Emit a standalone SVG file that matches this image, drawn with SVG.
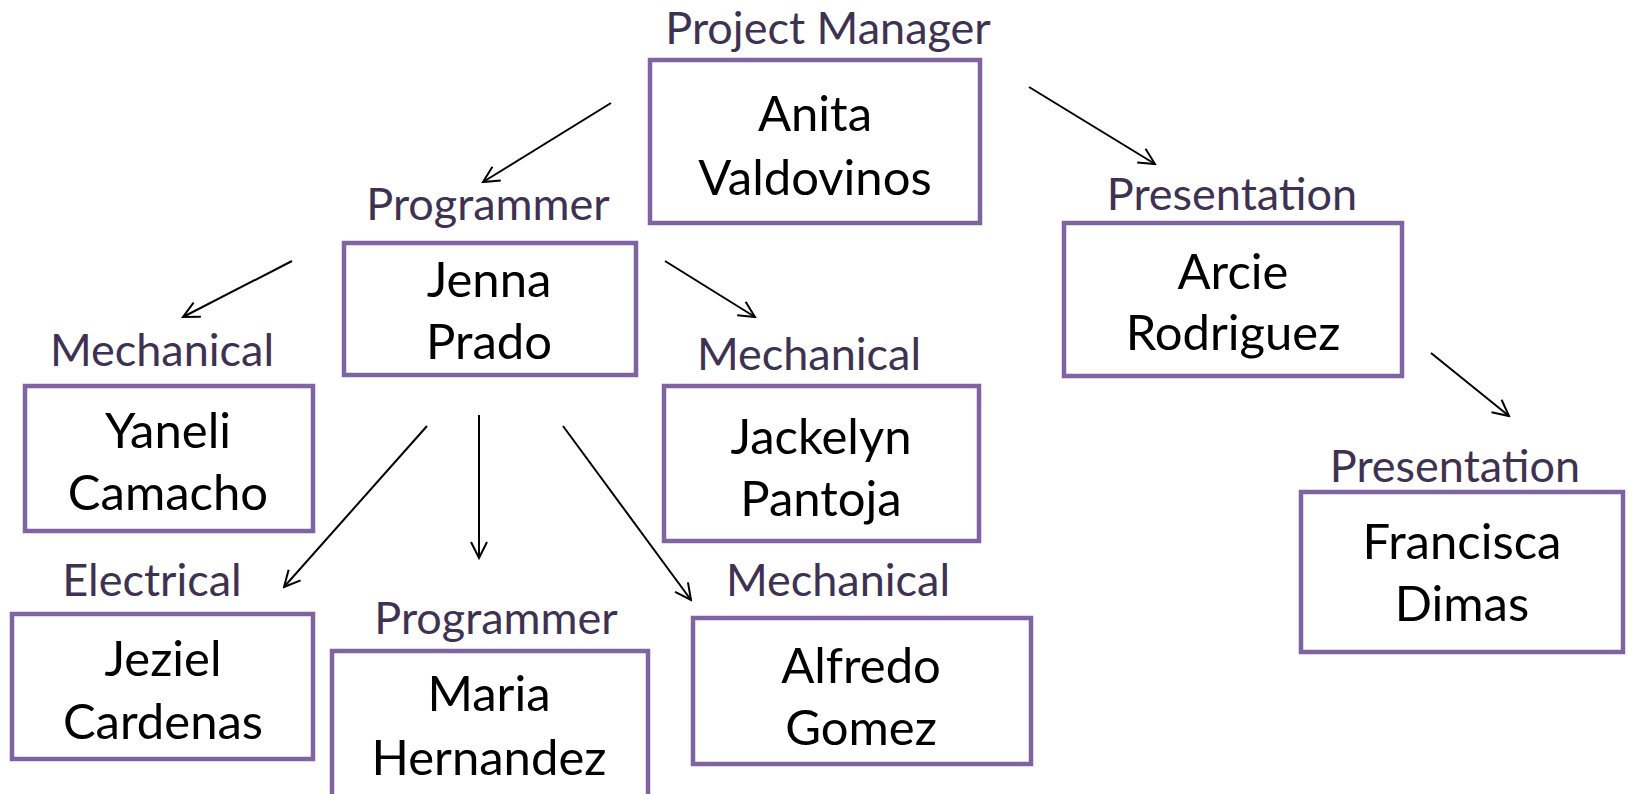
<svg xmlns="http://www.w3.org/2000/svg" width="1629" height="794" viewBox="0 0 1629 794">
<style>
.box{fill:#fff;stroke:#8064a2;stroke-width:4.5}
.role{font-family:Lato,"Liberation Sans",sans-serif;font-size:45px;fill:#3f3151;text-anchor:middle}
.name{font-family:Lato,"Liberation Sans",sans-serif;font-size:49px;fill:#000;text-anchor:middle}
.conn line{stroke:#000;stroke-width:2;marker-end:url(#arr)}
</style>
<defs>
<marker id="arr" viewBox="0 0 20 20" refX="18" refY="10" markerWidth="20" markerHeight="20" markerUnits="userSpaceOnUse" orient="auto">
<path d="M2,2 L18,10 L2,18" fill="none" stroke="#000" stroke-width="2"/>
</marker>
</defs>
<rect width="1629" height="794" fill="#fff"/>
<g id="connectors" class="conn">
<line x1="611" y1="103" x2="483" y2="182"/>
<line x1="1029" y1="87" x2="1155" y2="164"/>
<line x1="292" y1="261" x2="183" y2="317"/>
<line x1="665" y1="261" x2="755" y2="317"/>
<line x1="427" y1="426" x2="284" y2="587"/>
<line x1="479" y1="415" x2="479" y2="558"/>
<line x1="563" y1="426" x2="691" y2="600"/>
<line x1="1431" y1="353" x2="1509" y2="416"/>
</g>
<g id="anita">
<text class="role" x="828" y="44">Project Manager</text>
<rect class="box" x="650" y="60" width="330" height="163"/>
<text class="name" x="815" y="131">Anita</text>
<text class="name" x="815" y="195">Valdovinos</text>
</g>
<g id="jenna">
<text class="role" x="488" y="220">Programmer</text>
<rect class="box" x="344" y="243" width="292" height="132"/>
<text class="name" x="489" y="297">Jenna</text>
<text class="name" x="489" y="359">Prado</text>
</g>
<g id="arcie">
<text class="role" x="1232" y="210">Presentation</text>
<rect class="box" x="1064" y="223" width="338" height="153"/>
<text class="name" x="1233" y="289">Arcie</text>
<text class="name" x="1233" y="350">Rodriguez</text>
</g>
<g id="yaneli">
<text class="role" x="162" y="366">Mechanical</text>
<rect class="box" x="25" y="386" width="288" height="145"/>
<text class="name" x="168" y="448">Yaneli</text>
<text class="name" x="168" y="510">Camacho</text>
</g>
<g id="jackelyn">
<text class="role" x="809" y="370">Mechanical</text>
<rect class="box" x="664" y="386" width="315" height="155"/>
<text class="name" x="821" y="454">Jackelyn</text>
<text class="name" x="821" y="516">Pantoja</text>
</g>
<g id="francisca">
<text class="role" x="1455" y="482">Presentation</text>
<rect class="box" x="1301" y="492" width="322" height="160"/>
<text class="name" x="1462" y="559">Francisca</text>
<text class="name" x="1462" y="621">Dimas</text>
</g>
<g id="jeziel">
<text class="role" x="152" y="596">Electrical</text>
<rect class="box" x="12" y="614" width="301" height="145"/>
<text class="name" x="163" y="676">Jeziel</text>
<text class="name" x="163" y="739">Cardenas</text>
</g>
<g id="maria">
<text class="role" x="496" y="634">Programmer</text>
<rect class="box" x="332" y="651" width="316" height="160"/>
<text class="name" x="489" y="711">Maria</text>
<text class="name" x="489" y="775">Hernandez</text>
</g>
<g id="alfredo">
<text class="role" x="838" y="596">Mechanical</text>
<rect class="box" x="693" y="618" width="338" height="146"/>
<text class="name" x="861" y="683">Alfredo</text>
<text class="name" x="861" y="745">Gomez</text>
</g>
</svg>
